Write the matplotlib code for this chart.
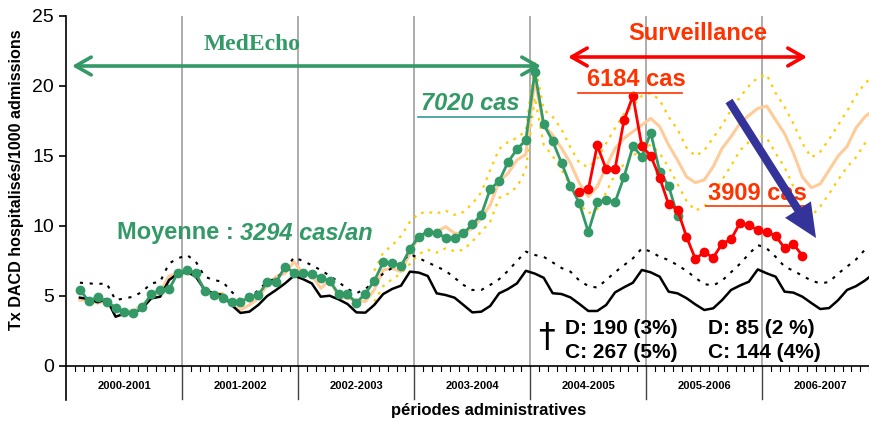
import numpy as np
import matplotlib
matplotlib.use("Agg")
import matplotlib.pyplot as plt
from matplotlib.patches import FancyArrowPatch

plt.rcParams['font.family'] = ['Liberation Sans', 'DejaVu Sans']

# ---------------- data (x = administrative period index, 13 per year) ----------------
years = ['2000-2001', '2001-2002', '2002-2003', '2003-2004', '2004-2005', '2005-2006', '2006-2007']
periods_per_year = 13

# baseline (black solid), periods 1..90
baseline = [4.88, 4.79, 4.55, 4.79, 3.52, 3.74, 3.76, 4.12, 4.83, 4.95, 6.14, 6.62,
            6.74, 6.38, 5.43, 5.19, 5.07, 4.36, 3.79, 3.88, 4.36, 5.0, 5.43, 5.9, 6.45,
            6.21, 5.9, 4.95, 5.02, 4.76, 4.43, 3.83, 3.81, 4.36, 5.14, 5.5, 5.74,
            6.74, 6.67, 6.43, 5.19, 5.07, 4.88, 4.36, 3.83, 3.88, 4.29, 5.19, 5.5, 5.9,
            6.8, 6.6, 6.3, 5.2, 5.14, 4.9, 4.43, 3.93, 3.93, 4.36, 5.26, 5.62, 5.95,
            6.86, 6.69, 6.38, 5.31, 5.19, 4.85, 4.4, 4.0, 4.12, 4.71, 5.43, 5.75, 6.02,
            6.9, 6.62, 6.38, 5.31, 5.24, 4.95, 4.5, 4.07, 4.14, 4.7, 5.43, 5.7, 6.1, 6.6]

# epidemic threshold (black dotted), periods 1..90
threshold = [5.95, 5.9, 5.86, 5.9, 4.71, 4.83, 4.95, 5.31, 5.9, 6.02, 7.33, 7.69,
             7.93, 7.45, 6.38, 6.14, 6.02, 5.31, 4.71, 4.83, 5.43, 6.02, 6.26, 6.86, 7.76,
             7.5, 7.2, 6.85, 6.45, 6.0, 5.5, 5.2, 5.5, 6.0, 6.6, 7.0, 7.4,
             8.0, 7.7, 7.4, 7.1, 6.8, 6.3, 5.79, 5.43, 5.43, 5.79, 6.2, 6.8, 7.5,
             8.17, 7.93, 7.8, 7.4, 7.0, 6.74, 6.1, 5.71, 5.6, 6.14, 6.7, 7.2, 7.69,
             8.4, 8.17, 7.8, 7.57, 7.2, 6.8, 6.3, 5.85, 5.75, 6.1, 6.7, 7.3, 8.0,
             8.64, 8.4, 7.8, 7.1, 6.8, 6.45, 6.1, 5.9, 6.0, 6.6, 7.1, 7.6, 8.3, 8.7]

# model (peach), periods 1..90
model = [4.71, 4.7, 4.48, 4.71, 4.0, 3.88, 3.93, 4.36, 4.95, 5.31, 6.43, 6.62,
         6.62, 6.5, 5.48, 5.14, 5.19, 4.36, 4.0, 4.36, 4.83, 5.79, 6.38, 6.62, 7.45,
         6.62, 6.5, 5.55, 6.14, 4.95, 4.83, 4.71, 4.6, 5.43, 6.86, 6.98, 6.74,
         8.05, 9.24, 9.48, 9.6, 9.95, 9.48, 9.48, 9.83, 10.55, 11.5, 13.17, 13.76, 14.71,
         15.12, 20.43, 17.21, 16.5, 15.55, 14.48, 13.05, 12.1, 12.81, 14.24, 15.55, 16.26, 16.74,
         17.21, 17.69, 17.1, 15.79, 14.71, 13.52, 13.1, 13.29, 14.24, 15.55, 16.38, 17.33, 17.9,
         18.4, 18.57, 17.57, 16.6, 15.2, 13.5, 12.74, 13.0, 14.0, 15.0, 15.67, 17.0, 17.8, 18.3]

# confidence band (yellow dotted), periods 34..90
band_upper = [6.8, 8.1, 8.6, 9.3,
              10.3, 10.9, 11.0, 10.9, 11.1, 10.8, 11.0, 11.6, 12.4, 14.0, 15.5, 16.0, 16.3,
              16.8, 21.7, 18.3, 17.8, 16.9, 15.6, 14.5, 14.2, 14.8, 15.9, 17.0, 18.0, 18.6,
              19.3, 19.5, 19.0, 17.8, 16.9, 15.6, 15.0, 15.4, 16.3, 17.2, 18.3, 19.2, 20.0,
              20.6, 20.8, 19.5, 18.5, 17.3, 15.9, 14.9, 15.3, 16.2, 17.2, 18.2, 19.3, 20.2, 20.7]
band_lower = [4.6, 5.7, 6.2, 6.6,
              7.3, 8.0, 8.3, 8.1, 8.4, 8.2, 8.3, 8.9, 9.6, 10.3, 12.0, 12.3, 12.8,
              14.0, 19.2, 15.8, 15.0, 14.0, 12.9, 11.6, 10.9, 11.2, 12.4, 13.7, 14.4, 15.0,
              15.5, 15.8, 15.2, 14.2, 13.0, 11.8, 11.1, 11.4, 12.2, 13.3, 14.3, 15.4, 16.0,
              16.5, 16.3, 15.2, 14.2, 12.8, 11.6, 10.7, 11.4, 12.3, 13.3, 14.2, 14.9, 15.9, 16.3]

# MedEcho observed rates (green), periods 1..68
medecho = [5.43, 4.64, 4.93, 4.6, 4.17, 3.83, 3.76, 4.19, 5.12, 5.45, 5.48, 6.67,
           6.83, 6.64, 5.33, 5.1, 4.88, 4.57, 4.57, 4.93, 5.07, 6.0, 5.98, 7.1, 6.67,
           6.62, 6.57, 6.29, 6.1, 5.14, 5.12, 4.52, 5.17, 6.07, 7.4, 7.36, 7.12,
           8.36, 9.24, 9.6, 9.5, 9.17, 9.14, 9.48, 10.12, 10.8, 12.64, 13.2, 14.57, 15.48,
           16.14, 21.0, 17.26, 16.07, 14.5, 12.88, 11.62, 9.57, 11.69, 11.86, 11.71, 13.5, 15.69,
           14.95, 16.67, 13.88, 12.86, 10.74]

# Surveillance rates (red), periods 57..82
surveillance = [12.45, 12.62, 15.76, 14.05, 14.1, 17.55, 19.29, 15.69, 15.02, 13.45, 11.55, 11.17,
                9.24, 7.65, 8.12, 7.74, 8.74, 9.05, 10.21, 10.05, 9.71, 9.57, 9.29, 8.43, 8.71, 7.88]

GREEN = '#339966'
RED = '#FF0000'
ORANGE_RED = '#FF3300'
NAVY = '#333399'
PEACH = '#FFCC99'
GOLD = '#FFCC00'

def xs(start, n):
    return np.arange(start, start + n) + 0.5

# ---------------- figure ----------------
W, H = 870, 425
fig = plt.figure(figsize=(W / 100, H / 100), dpi=100)
x0px, spacing = 66.5, 8.92
ax = fig.add_axes([x0px / W, (H - 400) / H, (W - x0px) / W, 384 / H])
ax.set_xlim(0, (W - x0px) / spacing)
ax.set_ylim(-34 / 14, 25)

nper = periods_per_year * len(years)

# year separators
for k in range(1, len(years) + 1):
    xb = k * periods_per_year
    ax.plot([xb, xb], [0, 25], color='#A0A0A0', lw=1.2, zorder=1)
    ax.plot([xb, xb], [-33 / 14, 0], color='#404040', lw=1.0, zorder=1, clip_on=False)

# period ticks
for p in range(1, nper):
    if p % periods_per_year:
        ax.plot([p, p], [-0.38, 0], color='black', lw=0.8, zorder=1)
ax.axhline(0, color='black', lw=1.2, zorder=2)

# series
ax.plot(xs(34, len(band_upper)), band_upper, color=GOLD, lw=1.6, ls=(0, (1.2, 2.6)), zorder=3)
ax.plot(xs(34, len(band_lower)), band_lower, color=GOLD, lw=1.6, ls=(0, (1.2, 2.6)), zorder=3)
ax.plot(xs(1, len(model)), model, color=PEACH, lw=2.2, zorder=3)
ax.plot(xs(1, len(threshold)), threshold, color='black', lw=1.5, ls=(0, (1.5, 3.2)), zorder=4)
ax.plot(xs(1, len(baseline)), baseline, color='black', lw=1.8, zorder=4)
ax.plot(xs(1, len(medecho)), medecho, color=GREEN, lw=2.0, marker='o', ms=6, zorder=5)
ax.plot(xs(57, len(surveillance)), surveillance, color=RED, lw=2.0, marker='o', ms=6, zorder=6)

# axes styling
for s in ['top', 'right', 'bottom']:
    ax.spines[s].set_visible(False)
ax.spines['left'].set_linewidth(1.2)
ax.set_xticks([])
ax.set_yticks([0, 5, 10, 15, 20, 25])
ax.tick_params(axis='y', direction='out', length=5, width=1.2, labelsize=14, pad=4)

# year labels
for k, lab in enumerate(years):
    ax.text(k * periods_per_year + periods_per_year / 2, -1.43, lab, ha='center', va='center',
            fontsize=8, fontweight='bold')

fig.text(489 / W, 1 - 411 / H, 'périodes administratives', ha='center', va='center',
         fontsize=12, fontweight='bold')
fig.text(17 / W, 1 - 180 / H, 'Tx DACD hospitalisés/1000 admissions', rotation=90,
         ha='center', va='center', fontsize=11.6, fontweight='bold')

def px2data(px, py):
    return ((px - x0px) / spacing, (366 - py) / 14)

# double arrows
def darrow(pxa, pxb, py, color):
    a = px2data(pxa, py)
    b = px2data(pxb, py)
    ar = FancyArrowPatch(a, b, arrowstyle='<->,head_length=0.7,head_width=0.4',
                         mutation_scale=16, color=color, lw=2.6, shrinkA=0, shrinkB=0, zorder=7)
    ax.add_patch(ar)

darrow(72, 541, 66, GREEN)
darrow(568, 807, 57, RED)

TS = 17
ax.text(*px2data(252, 44), 'MedEcho', color=GREEN, fontsize=TS, fontweight='bold',
        family=['Liberation Serif'], ha='center', va='center', zorder=8)
ax.text(*px2data(698, 34), 'Surveillance', color=ORANGE_RED, fontsize=TS, fontweight='bold',
        ha='center', va='center', zorder=8)

ax.text(*px2data(470, 104), '7020 cas', color=GREEN, fontsize=TS, fontweight='bold',
        style='italic', ha='center', va='center', zorder=8)
ax.plot(*zip(px2data(418, 117), px2data(531, 117)), color='#339999', lw=1.2, zorder=8)

ax.text(*px2data(636, 80), '6184 cas', color=ORANGE_RED, fontsize=TS, fontweight='bold',
        ha='center', va='center', zorder=8)
ax.plot(*zip(px2data(578, 93), px2data(682, 93)), color=ORANGE_RED, lw=1.2, zorder=8)

ax.text(*px2data(757, 194), '3909 cas', color=ORANGE_RED, fontsize=TS, fontweight='bold',
        ha='center', va='center', zorder=8)
ax.plot(*zip(px2data(706, 206), px2data(810, 206)), color=ORANGE_RED, lw=1.2, zorder=8)

t1 = ax.text(*px2data(117, 233), 'Moyenne : ', color=GREEN, fontsize=TS, fontweight='bold',
             ha='left', va='center', zorder=8)
ax.annotate('3294 cas/an', xy=(1, 0.5), xycoords=t1, ha='left', va='center', color=GREEN,
            fontsize=TS, fontweight='bold', style='italic', zorder=8)

# blue trend arrow
ba = FancyArrowPatch(px2data(729, 101), px2data(816, 238),
                     arrowstyle='simple,head_length=1.1,head_width=1.0,tail_width=0.27',
                     mutation_scale=22, color=NAVY, lw=0, shrinkA=0, shrinkB=0, zorder=9)
ax.add_patch(ba)

# deaths / complications
ax.text(*px2data(546, 338), '†', fontsize=24, ha='center', va='center', color='black',
        family=['DejaVu Sans'])
for (px, py, s) in [(565, 328, 'D: 190 (3%)'), (565, 353, 'C: 267 (5%)'),
                    (708, 328, 'D: 85 (2 %)'), (708, 353, 'C: 144 (4%)')]:
    ax.text(*px2data(px, py), s, fontsize=15, fontweight='bold', ha='left', va='center')

fig.savefig('out.png', dpi=100)
